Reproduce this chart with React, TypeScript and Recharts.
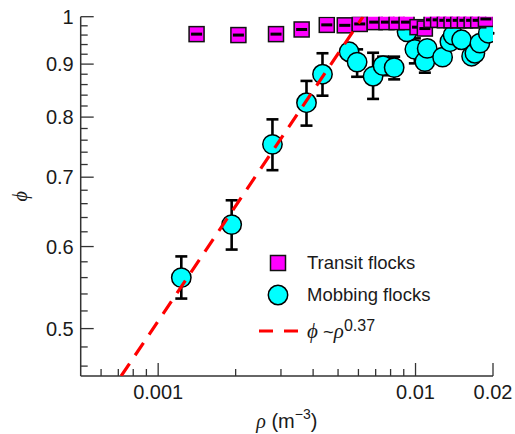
import React from "react";
import { ScatterChart, Scatter, XAxis, YAxis, ErrorBar, Legend, Label } from "recharts";

// transit flocks (squares)
const transitRho = [0.00141, 0.00205, 0.00287, 0.00361, 0.00452, 0.00531, 0.00607, 0.00694, 0.00771, 0.00844, 0.00923, 0.01018, 0.01087, 0.01154, 0.01224, 0.013, 0.0138, 0.01465, 0.01555, 0.01652, 0.01752, 0.01877];
const transitPhi = [0.962, 0.96, 0.962, 0.972, 0.982, 0.981, 0.984, 0.988, 0.988, 0.988, 0.988, 0.977, 0.974, 0.993, 0.993, 0.992, 0.992, 0.992, 0.992, 0.992, 0.992, 0.995];

// mobbing flocks (circles) + error bar ends
const mobbingRho = [0.00123, 0.00193, 0.00278, 0.00377, 0.00435, 0.00552, 0.00593, 0.00684, 0.00748, 0.00826, 0.00927, 0.00994, 0.01087, 0.0111, 0.01274, 0.0136, 0.014, 0.0151, 0.01652, 0.01701, 0.01779, 0.01917];
const mobbingPhi = [0.56, 0.63, 0.753, 0.826, 0.88, 0.925, 0.904, 0.876, 0.897, 0.893, 0.967, 0.93, 0.905, 0.932, 0.914, 0.946, 0.96, 0.95, 0.916, 0.922, 0.943, 0.964];
const mobbingTop = [0.587, 0.665, 0.796, 0.867, 0.922, 0.925, 0.93, 0.923, 0.915, 0.915, 0.967, 0.953, 0.93, 0.932, 0.914, 0.946, 0.96, 0.95, 0.916, 0.922, 0.943, 0.964];
const mobbingBottom = [0.5345, 0.596, 0.711, 0.785, 0.839, 0.925, 0.875, 0.833, 0.878, 0.87, 0.967, 0.9015, 0.883, 0.932, 0.914, 0.946, 0.96, 0.95, 0.916, 0.922, 0.943, 0.964];

// fit phi ~ rho^0.37, ends
const fitRho = [0.000718, 0.00625];
const fitPhi = [0.45, 1.0];

const xTicks = [0.0006, 0.0007, 0.0008, 0.0009, 0.001, 0.002, 0.003, 0.004, 0.005, 0.006, 0.007, 0.008, 0.009, 0.01, 0.02];
const xLabels = [0.001, 0.01, 0.02];
const yTicks = [0.46, 0.48, 0.5, 0.52, 0.54, 0.56, 0.58, 0.6, 0.62, 0.64, 0.66, 0.68, 0.7, 0.72, 0.74, 0.76, 0.78, 0.8, 0.82, 0.84, 0.86, 0.88, 0.9, 0.92, 0.94, 0.96, 0.98, 1];
const yLabels = [0.5, 0.6, 0.7, 0.8, 0.9, 1];

const seriesNames = ["Transit flocks", "Mobbing flocks"];

const transitData = transitRho.map((x, i) => ({ x, y: transitPhi[i] }));
const mobbingData = mobbingRho.map((x, i) => ({
  x,
  y: mobbingPhi[i],
  err: [mobbingPhi[i] - mobbingBottom[i], mobbingTop[i] - mobbingPhi[i]],
}));
const fitData = fitRho.map((x, i) => ({ x, y: fitPhi[i] }));

const SANS = "'Liberation Sans', Arial, Helvetica, sans-serif";
const SERIF = "'Liberation Serif', 'Times New Roman', serif";
const AXIS = "#333";
const PHI = "\u03D5";

const isIn = (list: number[], v: number) => list.some((t) => Math.abs(t - v) < 1e-9);

const XTick = (props: any) => {
  const { x, y, payload } = props;
  const major = isIn(xLabels, payload.value);
  return (
    <g>
      <line x1={x} x2={x} y1={y} y2={y - (major ? 13 : 7)} stroke={AXIS} strokeWidth={1.3} />
      {major && (
        <text x={x} y={y + 23} textAnchor="middle" fontFamily={SANS} fontSize={20} fill="#1a1a1a">
          {String(payload.value)}
        </text>
      )}
    </g>
  );
};

const YTick = (props: any) => {
  const { x, y, payload } = props;
  const major = isIn(yLabels, payload.value);
  return (
    <g>
      <line x1={x} x2={x + (major ? 13 : 7)} y1={y} y2={y} stroke={AXIS} strokeWidth={1.3} />
      {major && (
        <text x={x - 7} y={y} dy="0.36em" textAnchor="end" fontFamily={SANS} fontSize={20} fill="#1a1a1a">
          {String(payload.value)}
        </text>
      )}
    </g>
  );
};

const Square = (props: any) => {
  const { cx, cy } = props;
  return (
    <g>
      <rect x={cx - 7.5} y={cy - 7.5} width={15} height={15} fill="#ff00ff" stroke="#111" strokeWidth={1.5} />
      <rect x={cx - 5.5} y={cy - 1.5} width={11} height={3} fill="#000" />
    </g>
  );
};

const Dot = (props: any) => {
  const { cx, cy } = props;
  return <circle cx={cx} cy={cy} r={9.7} fill="#00ffff" stroke="#000" strokeWidth={1.5} />;
};

const Nothing = () => <g />;

const XTitle = (props: any) => {
  const vb = props.viewBox;
  const cx = vb.x + vb.width / 2;
  return (
    <text x={cx} y={428} textAnchor="middle" fontFamily={SANS} fontSize={20} fill="#1a1a1a">
      <tspan fontFamily={SERIF} fontStyle="italic">ρ</tspan>
      <tspan> (m</tspan>
      <tspan dy={-9} fontSize={14}>−3</tspan>
      <tspan dy={9}>)</tspan>
    </text>
  );
};

const YTitle = (props: any) => {
  const vb = props.viewBox;
  const cy = vb.y + vb.height / 2;
  return (
    <text x={20} y={cy} textAnchor="middle" dominantBaseline="central" transform={`rotate(-90, 20, ${cy})`} fontFamily={SERIF} fontStyle="italic" fontSize={20} fill="#1a1a1a">
      {PHI}
    </text>
  );
};

const LegendBox = () => {
  const row = (center: number): React.CSSProperties => ({
    position: "absolute",
    left: 0,
    top: center - 14,
    height: 28,
    width: 220,
    display: "flex",
    alignItems: "center",
  });
  return (
    <div style={{ position: "relative", width: 220, height: 110, fontFamily: SANS, fontSize: 18.5, color: "#1a1a1a" }}>
      <div style={row(20)}>
        <svg width={22} height={22} style={{ position: "absolute", left: 19 }}>
          <rect x={3.5} y={3.5} width={15} height={15} fill="#ff00ff" stroke="#111" strokeWidth={1.5} />
        </svg>
        <span style={{ position: "absolute", left: 59 }}>{seriesNames[0]}</span>
      </div>
      <div style={row(52)}>
        <svg width={24} height={24} style={{ position: "absolute", left: 18 }}>
          <circle cx={12} cy={12} r={9.7} fill="#00ffff" stroke="#000" strokeWidth={1.5} />
        </svg>
        <span style={{ position: "absolute", left: 59 }}>{seriesNames[1]}</span>
      </div>
      <div style={row(88)}>
        <svg width={40} height={6} style={{ position: "absolute", left: 11 }}>
          <line x1={0} x2={40} y1={3} y2={3} stroke="#ff0000" strokeWidth={3.2} strokeDasharray="14 11" />
        </svg>
        <span style={{ position: "absolute", left: 59, whiteSpace: "nowrap" }}>
          <span style={{ fontFamily: SERIF, fontStyle: "italic", fontSize: 21 }}>{PHI}</span>
          <span> ~</span>
          <span style={{ fontFamily: SERIF, fontStyle: "italic", fontSize: 21 }}>ρ</span>
          <sup style={{ fontSize: 16 }}>0.37</sup>
        </span>
      </div>
    </div>
  );
};

export default function App() {
  return (
    <div style={{ position: "absolute", left: 0, top: 0, width: 515, height: 434 }}>
      <ScatterChart width={515} height={434} margin={{ top: 16.7, right: 22, bottom: 8, left: 20.7 }}>
        <XAxis
          type="number"
          dataKey="x"
          scale="log"
          domain={[0.0005, 0.02]}
          allowDataOverflow
          ticks={xTicks}
          interval={0}
          tick={<XTick />}
          tickLine={false}
          tickSize={0}
          tickMargin={0}
          height={50}
          axisLine={{ stroke: AXIS, strokeWidth: 1.5 }}
        >
          <Label content={<XTitle />} />
        </XAxis>
        <YAxis
          type="number"
          dataKey="y"
          scale="log"
          domain={[0.45, 1]}
          allowDataOverflow
          ticks={yTicks}
          interval={0}
          tick={<YTick />}
          tickLine={false}
          tickSize={0}
          tickMargin={0}
          width={60}
          axisLine={{ stroke: AXIS, strokeWidth: 1.5 }}
        >
          <Label content={<YTitle />} />
        </YAxis>
        <Scatter data={mobbingData} shape={<Nothing />} isAnimationActive={false} legendType="none">
          <ErrorBar dataKey="err" direction="y" width={6} stroke="#000" strokeWidth={2.6} />
        </Scatter>
        <Scatter name={seriesNames[1]} data={mobbingData} shape={<Dot />} isAnimationActive={false} />
        <Scatter name={seriesNames[0]} data={transitData} shape={<Square />} isAnimationActive={false} />
        <Scatter
          data={fitData}
          line={{ stroke: "#ff0000", strokeWidth: 3.2, strokeDasharray: "15 10" }}
          shape={<Nothing />}
          isAnimationActive={false}
          legendType="none"
        />
        <Legend
          layout="vertical"
          align="center"
          verticalAlign="middle"
          content={<LegendBox />}
          wrapperStyle={{ left: 248, top: 243, width: 220, height: 110 }}
        />
      </ScatterChart>
    </div>
  );
}
